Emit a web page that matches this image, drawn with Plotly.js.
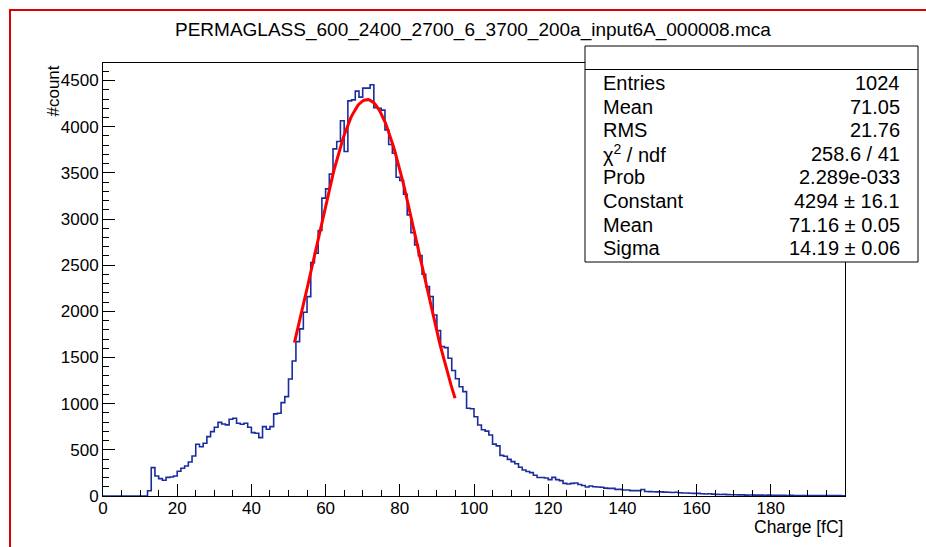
<!DOCTYPE html>
<html>
<head>
<meta charset="utf-8">
<script src="https://cdn.plot.ly/plotly-3.0.1.min.js"></script>
<style>
html,body{margin:0;padding:0;background:#fff;}
#chart{width:926px;height:547px;}
</style>
</head>
<body>
<div id="chart"></div>
<script>
// ---- data ----
const chartTitle = "PERMAGLASS_600_2400_2700_6_3700_200a_input6A_000008.mca";
const xTitle = "Charge [fC]";
const yTitle = "#count";

// histogram: bin low edges (1 fC wide) and counts
const binEdges = Array.from({length: 201}, (_, i) => i); // 0 .. 200
const counts = [
  0,0,0,0,0,0,0,0,0,0,              // 0-9
  0,0,57,307,217,188,170,202,205,217, // 10-19
  268,300,325,368,434,560,534,571,643,697, // 20-29
  744,798,780,770,831,842,788,777,788,744, // 30-39
  686,680,632,751,723,751,889,896,1011,1076, // 40-49
  1268,1463,1672,1810,1990,2160,2528,2630,2875,3226, // 50-59
  3327,3486,3760,3839,4064,3731,4280,4291,4385,4320, // 60-69
  4418,4418,4455,4205,4200,4180,3966,3808,3713,3453, // 70-79
  3417,3269,3045,2853,2720,2604,2402,2268,2160,1961, // 80-89
  1791,1620,1607,1492,1360,1270,1184,1130,950,945,   // 90-99
  859,769,718,703,661,562,543,440,430,397,           // 100-109
  372,350,312,282,265,253,225,200,200,195,           // 110-119
  177,202,177,166,137,130,137,140,125,114,           // 120-129
  97,108,101,98,94,85,83,83,72,72,                   // 130-139
  65,65,58,58,58,70,48,47,46,45,                     // 140-149
  45,42,40,38,40,35,32,33,30,28,                     // 150-159
  28,25,22,24,20,18,17,18,15,14,                     // 160-169
  13,12,12,10,11,9,10,9,8,9,                         // 170-179
  8,7,8,7,6,7,6,6,5,6,                               // 180-189
  5,5,6,4,5,4,5,4,4,3                                // 190-199
];

// Gaussian fit parameters (from the stats box) and fit range
const fitConstant = 4294;
const fitMean = 71.16;
const fitSigma = 14.19;
const fitRange = [51.6, 94.9];

// stats box
const statLabels = ["Entries", "Mean", "RMS", "\u03c7<sup>2</sup> / ndf", "Prob", "Constant", "Mean", "Sigma"];
const statValues = ["1024", "71.05", "21.76", "258.6 / 41", "2.289e-033", "4294 \u00b1 16.1", "71.16 \u00b1 0.05", "14.19 \u00b1 0.06"];

// axis ticks
const xTickVals = [0,20,40,60,80,100,120,140,160,180];
const xTickText = ["0","20","40","60","80","100","120","140","160","180"];
const yTickVals = [0,500,1000,1500,2000,2500,3000,3500,4000,4500];
const yTickText = ["0","500","1000","1500","2000","2500","3000","3500","4000","4500"];

// ---- build traces ----
const histY = counts.concat([counts[counts.length - 1]]);
const histTrace = {
  type: "scatter", mode: "lines",
  x: binEdges, y: histY,
  line: {shape: "hv", color: "#1a2c9e", width: 1.6},
  hoverinfo: "skip"
};

const fitX = [];
const fitY = [];
const nFit = 120;
for (let i = 0; i <= nFit; i++) {
  const x = fitRange[0] + (fitRange[1] - fitRange[0]) * i / nFit;
  fitX.push(x);
  fitY.push(fitConstant * Math.exp(-0.5 * Math.pow((x - fitMean) / fitSigma, 2)));
}
const fitTrace = {
  type: "scatter", mode: "lines",
  x: fitX, y: fitY,
  line: {color: "#ff0000", width: 3},
  hoverinfo: "skip"
};

// ---- geometry helpers (pixel -> paper) ----
const W = 926, H = 547;
const M = {l: 103, r: 81, t: 63, b: 51};
const PW = W - M.l - M.r, PH = H - M.t - M.b;
const px = v => (v - M.l) / PW;
const py = v => (H - M.b - v) / PH;

const FONT = "Liberation Sans, Arial, Helvetica, sans-serif";

const shapes = [
  // red canvas border
  {type: "path", xref: "paper", yref: "paper", layer: "above",
   path: `M ${px(10)},${py(560)} L ${px(10)},${py(10)} L ${px(940)},${py(10)}`,
   line: {color: "#dd0000", width: 2}},
  // stats box
  {type: "rect", xref: "paper", yref: "paper", layer: "above",
   x0: px(585), x1: px(918), y0: py(46), y1: py(262),
   fillcolor: "#ffffff", line: {color: "#000", width: 1}},
  {type: "line", xref: "paper", yref: "paper", layer: "above",
   x0: px(585), x1: px(918), y0: py(69.5), y1: py(69.5),
   line: {color: "#000", width: 1}}
];

const annotations = [
  {text: xTitle, xref: "paper", yref: "paper", x: px(845), y: py(527),
   xanchor: "right", yanchor: "middle", showarrow: false,
   font: {family: FONT, size: 17.5, color: "#000"}},
  {text: yTitle, xref: "paper", yref: "paper", x: px(53), y: py(64),
   xanchor: "center", yanchor: "top", textangle: -90, showarrow: false,
   font: {family: FONT, size: 17, color: "#000"}},
  {text: chartTitle, xref: "paper", yref: "paper", x: px(473), y: py(30),
   xanchor: "center", yanchor: "middle", showarrow: false,
   font: {family: FONT, size: 19, color: "#000"}}
];
statLabels.forEach((lab, i) => {
  const yy = 83 + i * 23.6;
  annotations.push({text: lab, xref: "paper", yref: "paper", x: px(601), y: py(yy),
    xanchor: "left", yanchor: "middle", showarrow: false,
    font: {family: FONT, size: 20, color: "#000"}});
  annotations.push({text: statValues[i], xref: "paper", yref: "paper", x: px(902), y: py(yy),
    xanchor: "right", yanchor: "middle", showarrow: false,
    font: {family: FONT, size: 20, color: "#000"}});
});

const layout = {
  width: W, height: H,
  margin: M,
  paper_bgcolor: "#fff", plot_bgcolor: "#fff",
  showlegend: false,
  xaxis: {
    range: [0, 200], tickmode: "array", tickvals: xTickVals, ticktext: xTickText,
    ticks: "inside", ticklen: 12, tickwidth: 1, tickcolor: "#000",
    showline: true, linecolor: "#000", linewidth: 1, mirror: true,
    showgrid: false, zeroline: false, ticklabelstandoff: -3,
    tickfont: {family: FONT, size: 17, color: "#000"},
    minor: {ticks: "inside", ticklen: 6, tickwidth: 1, tickcolor: "#000", dtick: 5, tick0: 0, showgrid: false}
  },
  yaxis: {
    range: [0, 4690], tickmode: "array", tickvals: yTickVals, ticktext: yTickText,
    ticks: "inside", ticklen: 12, tickwidth: 1, tickcolor: "#000",
    showline: true, linecolor: "#000", linewidth: 1, mirror: true,
    showgrid: false, zeroline: false,
    tickfont: {family: FONT, size: 17, color: "#000"},
    minor: {ticks: "inside", ticklen: 6, tickwidth: 1, tickcolor: "#000", dtick: 100, tick0: 0, showgrid: false}
  },
  shapes: shapes,
  annotations: annotations
};

Plotly.newPlot("chart", [histTrace, fitTrace], layout, {staticPlot: true, displayModeBar: false});
</script>
</body>
</html>
